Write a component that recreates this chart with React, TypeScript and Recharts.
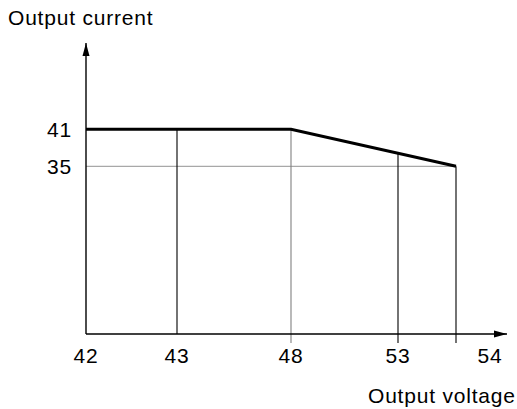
import React from 'react';
import {
  ComposedChart,
  Line,
  XAxis,
  YAxis,
  ReferenceLine,
  ReferenceDot,
} from 'recharts';

// x positions are schematic (the voltage axis is not linear in the source)
const voltageLabels = ['42', '43', '48', '53', '54'];
const voltageTickPos = [0, 9.1, 20.5, 31.2, 40.4];
const currentTicks = [41, 35];

// derating curve
const curveX = [0, 20.5, 37];
const curveY = [41, 41, 35];

// guide lines: x position, current at top of line
const guideX = [9.1, 20.5, 31.2, 37];
const guideTop = [41, 41, 37.1, 35];

const X_MIN = 0;
const X_MAX = 42.1;
const Y_MIN = 7.8;
const Y_MAX = 55;
const BELOW = 6.34; // guides extend slightly below the axis

const data = curveX.map((x, i) => ({ x, y: curveY[i] }));

const FONT = 'Arial, "Liberation Sans", Helvetica, sans-serif';

const ArrowRight = (p: any) => {
  const { cx, cy } = p;
  return <path d={`M${cx},${cy} L${cx - 13},${cy - 3.5} L${cx - 13},${cy + 3.5} Z`} fill="#000" />;
};
const ArrowUp = (p: any) => {
  const { cx, cy } = p;
  return <path d={`M${cx},${cy} L${cx - 3.5},${cy + 13} L${cx + 3.5},${cy + 13} Z`} fill="#000" />;
};

export default function App() {
  return (
    <div style={{ position: 'absolute', left: 0, top: 0, width: 517, height: 409, background: '#fff' }}>
      <ComposedChart
        width={517}
        height={409}
        data={data}
        margin={{ top: 43, right: 10, bottom: 0, left: 0 }}
      >
        <XAxis
          type="number"
          dataKey="x"
          domain={[X_MIN, X_MAX]}
          ticks={voltageTickPos}
          interval={0}
          allowDataOverflow
          tickFormatter={(v: number) => voltageLabels[voltageTickPos.indexOf(v)] ?? ''}
          axisLine={{ stroke: '#000', strokeWidth: 1.4 }}
          tickLine={false}
          tickSize={0}
          tickMargin={14}
          height={75}
          tick={{ fill: '#000', fontSize: 21, fontFamily: FONT, letterSpacing: 0.8 }}
        />
        <YAxis
          type="number"
          domain={[Y_MIN, Y_MAX]}
          ticks={currentTicks}
          interval={0}
          allowDataOverflow
          axisLine={{ stroke: '#000', strokeWidth: 1.4 }}
          tickLine={false}
          tickSize={0}
          tickMargin={14}
          width={86}
          tick={{ fill: '#000', fontSize: 21, fontFamily: FONT, letterSpacing: 0.8 }}
        />
        <ReferenceLine
          segment={[
            { x: X_MIN, y: currentTicks[1] },
            { x: curveX[2], y: currentTicks[1] },
          ]}
          stroke="#a8a8a8"
          strokeWidth={1.2}
          ifOverflow="visible"
        />
        {guideX.map((gx, i) => (
          <ReferenceLine
            key={i}
            segment={[
              { x: gx, y: guideTop[i] },
              { x: gx, y: i === 0 ? Y_MIN : BELOW },
            ]}
            stroke={i === 1 ? '#808080' : '#000'}
            strokeWidth={1.1}
            ifOverflow="visible"
          />
        ))}
        <Line
          type="linear"
          dataKey="y"
          stroke="#000"
          strokeWidth={3}
          dot={false}
          isAnimationActive={false}
        />
        <ReferenceDot x={X_MAX} y={Y_MIN} ifOverflow="visible" shape={ArrowRight} />
        <ReferenceDot x={X_MIN} y={Y_MAX} ifOverflow="visible" shape={ArrowUp} />
      </ComposedChart>
      <div
        style={{
          position: 'absolute',
          left: 8,
          top: 7,
          fontFamily: FONT,
          fontSize: 21,
          lineHeight: 1,
          letterSpacing: 0.8,
          color: '#000',
          whiteSpace: 'nowrap',
        }}
      >
        Output current
      </div>
      <div
        style={{
          position: 'absolute',
          left: 368,
          top: 385,
          fontFamily: FONT,
          fontSize: 21,
          lineHeight: 1,
          letterSpacing: 0.8,
          color: '#000',
          whiteSpace: 'nowrap',
        }}
      >
        Output voltage
      </div>
    </div>
  );
}
